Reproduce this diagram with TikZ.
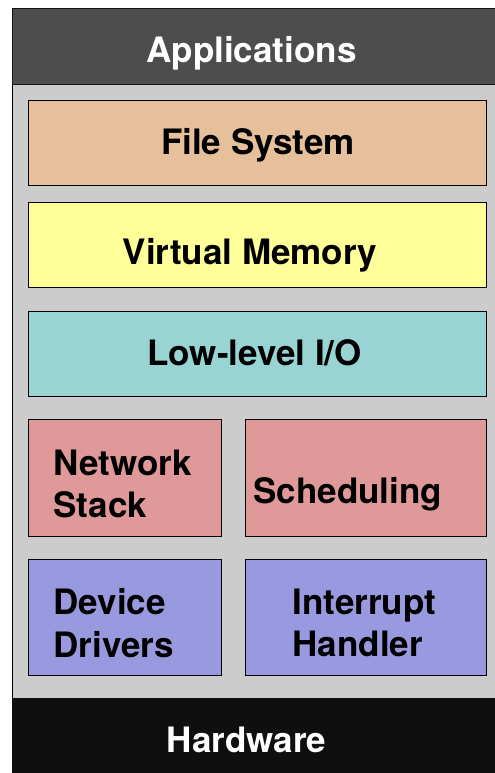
\documentclass[tikz,border=0pt]{standalone}
\usepackage{fontspec}
\setmainfont{TeX Gyre Heros}
\tikzset{every picture/.style={line width=0.75pt}}
\tikzset{layertext/.style={inner sep=0pt, align=left, font=\bfseries\fontsize{26.25}{32}\selectfont}}

\begin{document}
\begin{tikzpicture}[x=0.75pt,y=0.75pt,yscale=-1,xscale=1]
    \useasboundingbox (0,0) rectangle (494,773);

    %Shape: Rectangle [frame]
    \draw  [color={rgb, 255:red, 0; green, 0; blue, 0 }  ,draw opacity=1 ][fill={rgb, 255:red, 204; green, 204; blue, 204 }  ,fill opacity=1 ] (12.5,8.5) -- (500,8.5) -- (500,780) -- (12.5,780) -- cycle ;
    %Shape: Rectangle [applications band]
    \draw  [color={rgb, 255:red, 20; green, 20; blue, 20 }  ,draw opacity=1 ][fill={rgb, 255:red, 77; green, 77; blue, 77 }  ,fill opacity=1 ] (12.5,8.5) -- (500,8.5) -- (500,85) -- (12.5,85) -- cycle ;
    %Shape: Rectangle [hardware band]
    \draw  [color={rgb, 255:red, 15; green, 15; blue, 15 }  ,draw opacity=1 ][fill={rgb, 255:red, 15; green, 15; blue, 15 }  ,fill opacity=1 ] (12.5,698) -- (500,698) -- (500,780) -- (12.5,780) -- cycle ;

    %Shape: Rectangle [file system]
    \draw  [fill={rgb, 255:red, 230; green, 192; blue, 155 }  ,fill opacity=1 ] (28,101) -- (486,101) -- (486,186) -- (28,186) -- cycle ;
    %Shape: Rectangle [virtual memory]
    \draw  [fill={rgb, 255:red, 255; green, 255; blue, 153 }  ,fill opacity=1 ] (28,202.5) -- (486,202.5) -- (486,287) -- (28,287) -- cycle ;
    %Shape: Rectangle [low-level io]
    \draw  [fill={rgb, 255:red, 153; green, 212; blue, 212 }  ,fill opacity=1 ] (28,311) -- (486,311) -- (486,396) -- (28,396) -- cycle ;
    %Shape: Rectangle [network stack]
    \draw  [fill={rgb, 255:red, 224; green, 153; blue, 153 }  ,fill opacity=1 ] (28,419) -- (221.5,419) -- (221.5,536) -- (28,536) -- cycle ;
    %Shape: Rectangle [scheduling]
    \draw  [fill={rgb, 255:red, 224; green, 153; blue, 153 }  ,fill opacity=1 ] (245,419) -- (486,419) -- (486,536) -- (245,536) -- cycle ;
    %Shape: Rectangle [device drivers]
    \draw  [fill={rgb, 255:red, 153; green, 153; blue, 224 }  ,fill opacity=1 ] (28,559) -- (221.5,559) -- (221.5,675) -- (28,675) -- cycle ;
    %Shape: Rectangle [interrupt handler]
    \draw  [fill={rgb, 255:red, 153; green, 153; blue, 224 }  ,fill opacity=1 ] (245,559) -- (486,559) -- (486,675) -- (245,675) -- cycle ;

    % Text Node
    \draw (251.5,63) node (apps) [anchor=base][layertext][color=white]  {Applications};
    % Text Node
    \draw (258,155) node (fs) [anchor=base][layertext]  {File System};
    % Text Node
    \draw (250,264) node (vm) [anchor=base][layertext]  {Virtual Memory};
    % Text Node
    \draw (254.5,365) node (lio) [anchor=base][layertext]  {Low-level I/O};
    % Text Node
    \draw (53,449) node (net) [anchor=north west][layertext]  {Network\\Stack};
    % Text Node
    \draw (253,503) node (sched) [anchor=base west][layertext]  {Scheduling};
    % Text Node
    \draw (53,588) node (dev) [anchor=north west][layertext]  {Device\\Drivers};
    % Text Node
    \draw (292,588) node (irq) [anchor=north west][layertext]  {Interrupt\\Handler};
    % Text Node
    \draw (246.5,752) node (hw) [anchor=base][layertext][color=white]  {Hardware};

\end{tikzpicture}
\end{document}
